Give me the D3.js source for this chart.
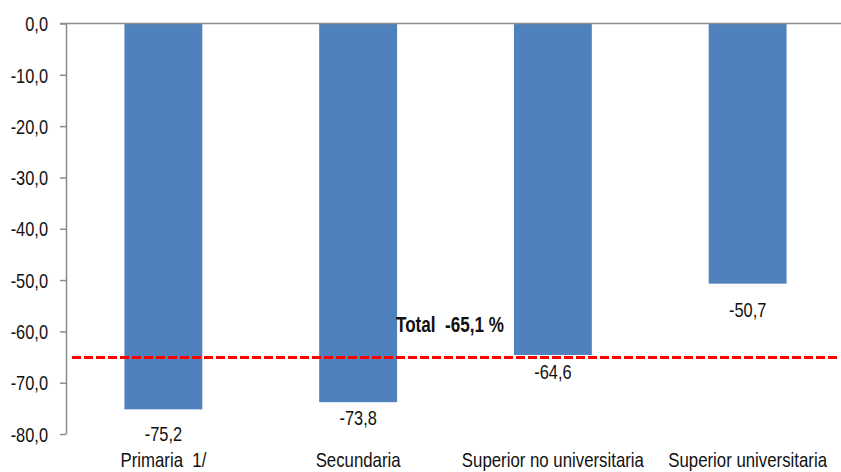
<!DOCTYPE html>
<html>
<head>
<meta charset="utf-8">
<script src="https://cdn.jsdelivr.net/npm/d3@7"></script>
<style>
  html, body { margin: 0; padding: 0; background: #fff; }
  svg { display: block; }
  text { font-family: "Liberation Sans", Arial, sans-serif; fill: #111; }
</style>
</head>
<body>
<svg id="chart" width="841" height="472"></svg>
<script>
// ---- data ----
const categories = ["Primaria  1/", "Secundaria", "Superior no universitaria", "Superior universitaria"];
const values = [-75.2, -73.8, -64.6, -50.7];
const totalValue = -65.1;
const totalLabel = "Total  -65,1 %";
const yTicks = [0, -10, -20, -30, -40, -50, -60, -70, -80];

// ---- layout / style ----
const W = 841, H = 472;
const axisX = 66, topY = 23.5, bottomY = 434;
const labelDy = [32, 23, 24, 33]; // manual label offsets below bar ends, as in the original
const barColor = "#4F81BD";
const axisColor = "#8c8c8c";
const NARROW = 0.82; // emulate Arial Narrow by horizontal compression

const svg = d3.select("#chart");

const x = d3.scaleBand()
  .domain(categories)
  .range([axisX, 845])
  .paddingInner(0.6)
  .paddingOuter(0.3);

const y = d3.scaleLinear().domain([-80, 0]).range([bottomY, topY]);

const fmt = v => d3.format(".1f")(v).replace(".", ",").replace("−", "-");
const place = (px, py, k = NARROW) => `translate(${px},${py}) scale(${k},1)`;

// bars
svg.append("g").selectAll("rect")
  .data(values)
  .join("rect")
  .attr("x", (d, i) => x(categories[i]))
  .attr("width", x.bandwidth())
  .attr("y", y(0))
  .attr("height", d => y(d) - y(0))
  .attr("fill", barColor);

// top (zero) line
svg.append("line")
  .attr("x1", axisX - 6).attr("x2", W)
  .attr("y1", y(0)).attr("y2", y(0))
  .attr("stroke", axisColor).attr("stroke-width", 1.5);

// y axis
const yAxis = d3.axisLeft(y).tickValues(yTicks).tickSize(6).tickSizeOuter(0).tickFormat(fmt);
const gy = svg.append("g").attr("transform", `translate(${axisX},0)`).call(yAxis);
gy.attr("font-family", null).attr("font-size", null);
gy.select(".domain").attr("stroke", axisColor).attr("stroke-width", 1.5);
gy.selectAll(".tick line").attr("stroke", axisColor).attr("stroke-width", 1.5);
gy.selectAll(".tick text")
  .attr("x", 0)
  .attr("dy", "0.36em")
  .attr("transform", place(-18, 0))
  .style("font-size", "20px")
  .attr("fill", "#111");

// total dashed line
svg.append("line")
  .attr("x1", 72).attr("x2", 838)
  .attr("y1", y(totalValue)).attr("y2", y(totalValue))
  .attr("stroke", "#ff0000")
  .attr("stroke-width", 3)
  .attr("stroke-dasharray", "9,3");

// value labels
svg.append("g").selectAll("text")
  .data(values)
  .join("text")
  .attr("transform", (d, i) => place(x(categories[i]) + x.bandwidth() / 2, y(d) + labelDy[i]))
  .attr("text-anchor", "middle")
  .style("font-size", "20px")
  .text(d => fmt(d));

// category labels
svg.append("g").selectAll("text")
  .data(categories)
  .join("text")
  .attr("transform", d => place(x(d) + x.bandwidth() / 2, 467))
  .attr("text-anchor", "middle")
  .attr("xml:space", "preserve")
  .style("white-space", "pre")
  .style("font-size", "20.5px")
  .text(d => d);

// total label
svg.append("text")
  .attr("transform", place(396, 331.5, 0.76))
  .attr("xml:space", "preserve")
  .style("white-space", "pre")
  .style("font-size", "22.5px")
  .style("font-weight", "bold")
  .text(totalLabel);
</script>
</body>
</html>
